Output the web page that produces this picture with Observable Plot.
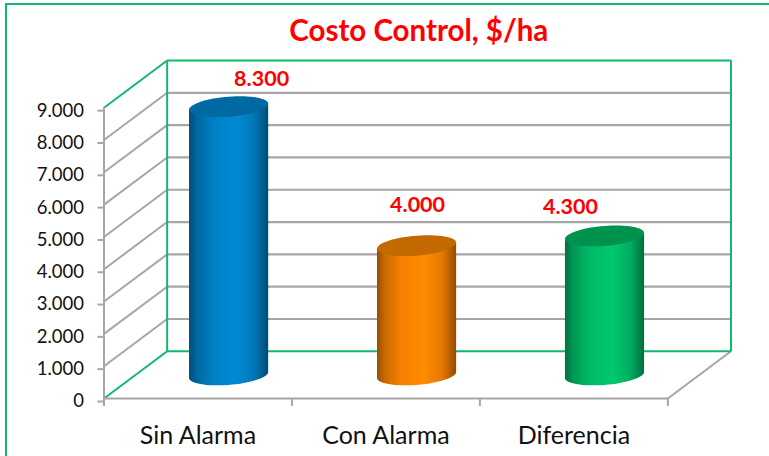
<!DOCTYPE html>
<html><head><meta charset="utf-8">
<script src="https://cdn.jsdelivr.net/npm/d3@7"></script>
<script src="https://cdn.jsdelivr.net/npm/@observablehq/plot@0.6"></script>
<style>html,body{margin:0;padding:0;background:#fff}#c{position:relative;width:769px;height:456px;overflow:hidden}svg{display:block}</style>
</head><body><div id="c"></div>
<script>
const categories = ["Sin Alarma", "Con Alarma", "Diferencia"];
const values = [8300, 4000, 4300];
const valueLabels = ["8.300", "4.000", "4.300"];
const yTicks = [0,1000,2000,3000,4000,5000,6000,7000,8000,9000];
const titleText = "Costo Control, $/ha";
const sideStops = [[0,.6],[.1,.8],[.3,.98],[.6,1.06],[.82,.92],[1,.58]];
const baseColors = ["#0082c8","#fb8300","#00bd68"];
const capColors = ["#0069a3","#c26a00","#00934f"];

const green = "#10b96d", gray = "#a6a6a6";
const DX = 0.336, DY = 1460;            // depth of the 3D box, in data units
const RX = 0.2105, RY = 310, TILT = 93; // cylinder ellipse, in data units
const font = "Lato, Carlito, Calibri, sans-serif";

const shade = (c,f) => { const r = d3.rgb(c); return d3.rgb(r.r*f, r.g*f, r.b*f).formatHex(); };
const rows = categories.map((c,i)=>({c,i,v:values[i],label:valueLabels[i],cx:i+.5+DX/2-.005,by:DY/2,ty:DY/2+values[i]}));
const ang = d3.range(0,65).map(k=>k/64*2*Math.PI);
const capPts = r => ang.map(t=>({x:r.cx+RX*Math.cos(t), y:r.ty+TILT*Math.cos(t)+RY*Math.sin(t)}));
const bottomAt = (r,t)=>({x:r.cx+RX*Math.cos(t), y:r.by+TILT*Math.cos(t)-RY*Math.sin(t)});
const sidePoly = r => {
  const arc = d3.range(0,33).map(k=>bottomAt(r,k/32*Math.PI));
  return [...arc, {x:r.cx-RX,y:r.ty-TILT}, {x:r.cx+RX,y:r.ty+TILT}, arc[0]];
};

const defs = () => {
  const s = d3.create("svg:defs");
  baseColors.forEach((c,i)=>{
    const g = s.append("linearGradient").attr("id","cyl"+i).attr("x1",0).attr("x2",1).attr("y1",0).attr("y2",0);
    sideStops.forEach(([o,f])=>g.append("stop").attr("offset",o).attr("stop-color",shade(c,f)));
  });
  return s.node();
};

const wall = [
  {x1:DX,x2:DX,y1:DY,y2:9000+DY},
  {x1:3+DX,x2:3+DX,y1:DY,y2:9000+DY},
  {x1:DX,x2:3+DX,y1:DY,y2:DY},
  {x1:DX,x2:3+DX,y1:9000+DY,y2:9000+DY},
  {x1:0,x2:DX,y1:0,y2:DY},
  {x1:0,x2:DX,y1:9000,y2:9000+DY}
];
const grid = yTicks.slice(1,-1);

const plot = Plot.plot({
  width:769, height:456,
  marginLeft:103.5, marginRight:38.5, marginTop:60, marginBottom:58,
  x:{domain:[0,3+DX], axis:null},
  y:{domain:[0,9000+DY], axis:null},
  style:{background:"transparent", fontFamily:font},
  marks:[
    defs,
    Plot.ruleY(grid,{y:d=>d+DY,x1:DX,x2:3+DX,stroke:gray,strokeWidth:2.2}),
    Plot.link(grid,{x1:0,x2:DX,y1:d=>d,y2:d=>d+DY,stroke:gray,strokeWidth:2}),
    Plot.link([0],{x1:3,x2:3+DX,y1:0,y2:DY,stroke:gray,strokeWidth:2}),
    Plot.link(wall,{x1:"x1",x2:"x2",y1:"y1",y2:"y2",stroke:green,strokeWidth:2}),
    Plot.ruleX([0],{y1:0,y2:9000,stroke:gray,strokeWidth:2}),
    Plot.ruleY([0],{x1:0,x2:3,stroke:gray,strokeWidth:2}),
    Plot.axisY({ticks:yTicks,tickSize:6,tickPadding:14,stroke:gray,strokeWidth:2,fontSize:18.5,fill:"#111",dy:3,
      tickFormat:d=>d===0?"0":d3.format(",")(d).replace(",",".")}),
    Plot.axisX({ticks:[0,1,2,3],tickSize:8,tickFormat:()=>"",stroke:gray,strokeWidth:2,anchor:"bottom"}),
    ...rows.flatMap(r=>[
      Plot.line(sidePoly(r),{x:"x",y:"y",fill:`url(#cyl${r.i})`,stroke:"none"}),
      Plot.line(capPts(r),{x:"x",y:"y",fill:capColors[r.i],stroke:"none"})
    ]),
    Plot.text([rows[0]],{x:"cx",y:"ty",text:"label",dx:33,dy:-28,fill:"#f00",fontWeight:700,fontSize:21.5}),
    Plot.text([rows[1]],{x:"cx",y:"ty",text:"label",dx:1,dy:-41,fill:"#f00",fontWeight:700,fontSize:21.5}),
    Plot.text([rows[2]],{x:"cx",y:"ty",text:"label",dx:-34,dy:-29,fill:"#f00",fontWeight:700,fontSize:21.5}),
    Plot.text(categories,{x:(d,i)=>i+.5,y:0,text:d=>d,dy:37,fill:"#111",fontSize:25}),
    Plot.text([titleText],{x:[1.675],y:[9000+DY],text:d=>d,dy:-29,fill:"#f00",fontWeight:700,fontSize:29.5})
  ]
});
const border = document.createElement("div");
border.style.cssText = `position:absolute;left:5px;top:3px;width:800px;height:500px;border:2px solid ${green};box-sizing:border-box`;
document.getElementById("c").append(plot, border);
</script></body></html>
